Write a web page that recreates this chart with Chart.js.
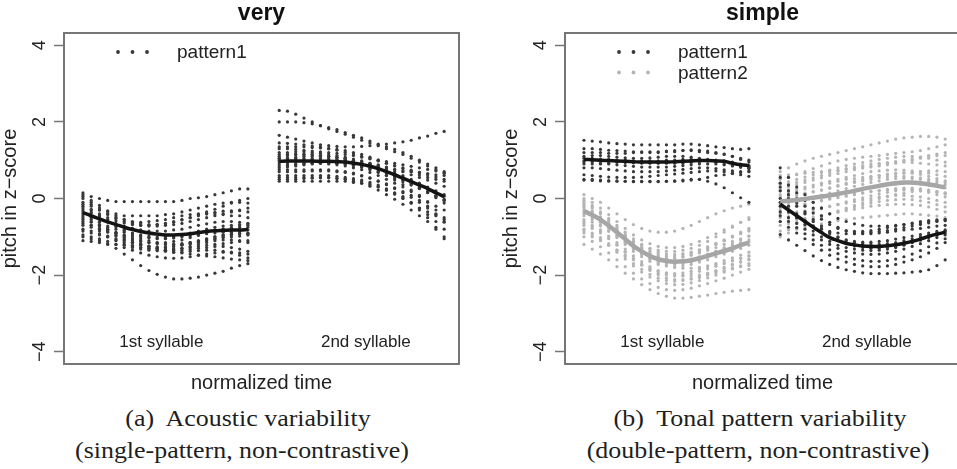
<!DOCTYPE html>
<html><head><meta charset="utf-8">
<script src="https://cdn.jsdelivr.net/npm/chart.js@4.4.1/dist/chart.umd.min.js"></script>
<style>
html,body{margin:0;padding:0;background:#fff;width:957px;height:469px;overflow:hidden;position:relative}
canvas{position:absolute;top:0}
#c1{left:0}
#c2{left:501px}
.cap{position:absolute;font-family:"Liberation Serif","Times New Roman",serif;font-size:24px;color:#1e1e1e;white-space:nowrap;transform:translate(-50%,-50%) scaleX(1.08)}
</style></head><body>
<canvas id="c1" width="478" height="400"></canvas>
<canvas id="c2" width="478" height="400"></canvas>
<div class="cap" style="left:248px;top:418px">(a)&nbsp; Acoustic variability</div>
<div class="cap" style="left:242px;top:450px">(single-pattern, non-contrastive)</div>
<div class="cap" style="left:760px;top:418px">(b)&nbsp; Tonal pattern variability</div>
<div class="cap" style="left:758px;top:450px">(double-pattern, non-contrastive)</div>
<script>
// ---------- data ----------
const panelTitles = ['very', 'simple'];
const yTickValues = [-4, -2, 0, 2, 4];
const yTickLabels = ['\u22124', '\u22122', '0', '2', '4'];
const syllableLabels = ['1st syllable', '2nd syllable'];
const syllableLabelX = [9.5, 34.3];
const syllableLabelY = -3.76;
const syllableOffset = [0, 23.8];
const timeSteps = [0,1,2,3,4,5,6,7,8,9,10,11,12,13,14,15,16,17,18,19,20];

// "very" – pattern1, 1st syllable contours
const veryS1 = [
 [0.15,0.05,0.0,-0.05,-0.08,-0.08,-0.08,-0.08,-0.08,-0.08,-0.08,-0.08,-0.05,0.0,0.02,0.05,0.1,0.15,0.2,0.25,0.25],
 [0.1,-0.1,-0.25,-0.35,-0.4,-0.45,-0.45,-0.45,-0.45,-0.45,-0.42,-0.4,-0.35,-0.3,-0.25,-0.2,-0.15,-0.12,-0.1,-0.1,-0.12],
 [-0.1,-0.2,-0.3,-0.4,-0.5,-0.55,-0.6,-0.62,-0.6,-0.58,-0.55,-0.5,-0.45,-0.42,-0.4,-0.4,-0.4,-0.42,-0.45,-0.45,-0.5],
 [-0.3,-0.35,-0.45,-0.55,-0.65,-0.72,-0.78,-0.82,-0.85,-0.85,-0.85,-0.82,-0.8,-0.75,-0.7,-0.66,-0.62,-0.6,-0.6,-0.62,-0.65],
 [-0.4,-0.5,-0.6,-0.72,-0.8,-0.88,-0.95,-1.0,-1.02,-1.05,-1.05,-1.03,-1.0,-0.98,-0.95,-0.92,-0.9,-0.88,-0.88,-0.9,-0.92],
 [-0.5,-0.6,-0.7,-0.8,-0.9,-0.98,-1.05,-1.1,-1.15,-1.18,-1.2,-1.2,-1.18,-1.15,-1.12,-1.08,-1.05,-1.02,-1.0,-0.98,-0.95],
 [-0.6,-0.7,-0.85,-0.98,-1.1,-1.2,-1.28,-1.32,-1.35,-1.36,-1.35,-1.32,-1.3,-1.28,-1.25,-1.22,-1.2,-1.18,-1.15,-1.12,-1.1],
 [-0.85,-0.9,-0.95,-1.0,-1.05,-1.1,-1.15,-1.2,-1.25,-1.3,-1.35,-1.4,-1.42,-1.45,-1.48,-1.5,-1.52,-1.55,-1.58,-1.6,-1.62],
 [-1.0,-1.05,-1.1,-1.2,-1.3,-1.45,-1.6,-1.75,-1.88,-1.98,-2.05,-2.1,-2.1,-2.08,-2.05,-2.0,-1.95,-1.9,-1.82,-1.75,-1.7],
 [-0.2,-0.3,-0.45,-0.6,-0.72,-0.82,-0.9,-0.95,-0.98,-1.0,-1.0,-0.98,-0.95,-0.9,-0.85,-0.8,-0.75,-0.72,-0.7,-0.68,-0.66],
 [-1.1,-1.12,-1.15,-1.18,-1.2,-1.22,-1.25,-1.28,-1.3,-1.32,-1.35,-1.35,-1.35,-1.33,-1.3,-1.28,-1.25,-1.25,-1.28,-1.32,-1.38],
 [-0.7,-0.75,-0.8,-0.85,-0.9,-0.95,-1.0,-1.05,-1.1,-1.15,-1.18,-1.2,-1.2,-1.18,-1.15,-1.1,-1.05,-1.0,-0.95,-0.92,-0.9],
 [0.0,-0.15,-0.3,-0.42,-0.52,-0.6,-0.66,-0.7,-0.72,-0.72,-0.7,-0.68,-0.65,-0.6,-0.55,-0.5,-0.45,-0.4,-0.35,-0.3,-0.25],
 [-0.45,-0.55,-0.68,-0.8,-0.92,-1.02,-1.1,-1.18,-1.25,-1.3,-1.32,-1.32,-1.3,-1.25,-1.2,-1.15,-1.1,-1.08,-1.08,-1.1,-1.15],
 [-0.25,-0.38,-0.5,-0.62,-0.74,-0.84,-0.92,-0.98,-1.02,-1.04,-1.04,-1.02,-0.98,-0.94,-0.9,-0.86,-0.82,-0.8,-0.78,-0.76,-0.75],
 [-0.55,-0.62,-0.72,-0.84,-0.96,-1.06,-1.14,-1.2,-1.24,-1.26,-1.26,-1.24,-1.2,-1.15,-1.1,-1.05,-1.0,-0.96,-0.93,-0.92,-0.92],
 [-0.15,-0.28,-0.4,-0.5,-0.58,-0.64,-0.68,-0.7,-0.7,-0.68,-0.65,-0.6,-0.55,-0.5,-0.45,-0.4,-0.36,-0.33,-0.32,-0.32,-0.35],
 [-0.8,-0.85,-0.92,-1.0,-1.08,-1.15,-1.22,-1.28,-1.32,-1.36,-1.38,-1.4,-1.4,-1.38,-1.36,-1.35,-1.35,-1.38,-1.42,-1.48,-1.55],
 [-0.35,-0.48,-0.62,-0.76,-0.88,-0.98,-1.06,-1.12,-1.15,-1.16,-1.15,-1.12,-1.08,-1.02,-0.96,-0.9,-0.85,-0.8,-0.76,-0.72,-0.7],
 [-0.65,-0.7,-0.78,-0.88,-0.98,-1.08,-1.16,-1.22,-1.26,-1.28,-1.28,-1.26,-1.22,-1.18,-1.12,-1.06,-1.0,-0.95,-0.9,-0.85,-0.82],
 [0.05,-0.05,-0.18,-0.32,-0.45,-0.55,-0.62,-0.66,-0.68,-0.68,-0.66,-0.62,-0.56,-0.5,-0.42,-0.35,-0.28,-0.2,-0.12,-0.05,0.0],
 [-0.95,-1.0,-1.05,-1.12,-1.2,-1.28,-1.35,-1.42,-1.48,-1.52,-1.55,-1.56,-1.55,-1.52,-1.48,-1.45,-1.42,-1.4,-1.4,-1.42,-1.45]
];
// "very" – pattern1, 2nd syllable contours
const veryS2 = [
 [2.3,2.28,2.2,2.1,2.0,1.9,1.82,1.75,1.68,1.6,1.52,1.45,1.38,1.3,1.22,1.15,1.05,0.95,0.85,0.75,0.65],
 [2.0,2.0,2.0,1.98,1.95,1.9,1.85,1.8,1.72,1.65,1.58,1.5,1.42,1.35,1.28,1.2,1.1,1.0,0.9,0.8,0.7],
 [1.65,1.6,1.55,1.5,1.45,1.4,1.38,1.36,1.35,1.35,1.36,1.38,1.4,1.42,1.45,1.48,1.52,1.58,1.63,1.7,1.75],
 [1.35,1.35,1.35,1.35,1.33,1.32,1.3,1.28,1.25,1.2,1.15,1.08,1.0,0.92,0.85,0.78,0.7,0.62,0.55,0.5,0.45],
 [1.2,1.2,1.22,1.22,1.2,1.18,1.15,1.12,1.08,1.03,0.98,0.92,0.85,0.78,0.7,0.6,0.5,0.4,0.3,0.2,0.1],
 [1.05,1.05,1.05,1.05,1.05,1.05,1.04,1.02,1.0,0.96,0.92,0.87,0.8,0.72,0.62,0.52,0.42,0.3,0.18,0.05,-0.05],
 [0.9,0.9,0.9,0.92,0.92,0.92,0.9,0.88,0.85,0.8,0.75,0.68,0.6,0.5,0.4,0.3,0.18,0.05,-0.08,-0.2,-0.3],
 [0.75,0.75,0.75,0.75,0.75,0.75,0.75,0.72,0.7,0.66,0.6,0.54,0.46,0.38,0.28,0.18,0.08,-0.05,-0.2,-0.4,-0.6],
 [0.6,0.6,0.6,0.6,0.6,0.6,0.6,0.58,0.55,0.52,0.48,0.42,0.35,0.25,0.15,0.05,-0.1,-0.3,-0.5,-0.75,-1.05],
 [0.45,0.45,0.45,0.45,0.45,0.45,0.45,0.45,0.45,0.42,0.4,0.35,0.3,0.22,0.12,0.0,-0.12,-0.25,-0.35,-0.45,-0.5],
 [1.0,1.0,1.0,1.0,1.0,1.0,1.0,1.0,1.0,0.98,0.96,0.92,0.88,0.82,0.76,0.7,0.62,0.55,0.48,0.4,0.32],
 [0.8,0.82,0.85,0.88,0.9,0.92,0.92,0.92,0.9,0.88,0.84,0.78,0.7,0.6,0.48,0.36,0.22,0.08,-0.1,-0.3,-0.55],
 [1.1,1.12,1.15,1.15,1.15,1.12,1.1,1.08,1.05,1.0,0.95,0.9,0.85,0.8,0.75,0.72,0.7,0.68,0.65,0.62,0.6],
 [0.55,0.55,0.55,0.55,0.55,0.55,0.55,0.52,0.5,0.45,0.4,0.32,0.22,0.1,-0.02,-0.15,-0.3,-0.45,-0.6,-0.8,-1.0],
 [1.15,1.15,1.15,1.15,1.14,1.12,1.1,1.07,1.03,0.98,0.92,0.85,0.77,0.68,0.58,0.48,0.38,0.28,0.18,0.08,-0.02],
 [0.95,0.95,0.96,0.97,0.97,0.96,0.95,0.93,0.9,0.86,0.81,0.75,0.68,0.6,0.52,0.44,0.35,0.26,0.16,0.06,-0.05],
 [0.7,0.7,0.7,0.71,0.72,0.72,0.72,0.7,0.68,0.64,0.59,0.53,0.45,0.36,0.26,0.15,0.03,-0.1,-0.25,-0.42,-0.62],
 [1.3,1.3,1.28,1.26,1.24,1.22,1.2,1.18,1.15,1.12,1.08,1.04,1.0,0.96,0.92,0.88,0.84,0.8,0.76,0.72,0.68],
 [0.85,0.86,0.88,0.9,0.92,0.93,0.93,0.92,0.9,0.87,0.83,0.78,0.72,0.65,0.57,0.48,0.38,0.27,0.15,0.02,-0.12],
 [1.05,1.06,1.08,1.1,1.1,1.1,1.09,1.07,1.04,1.0,0.95,0.89,0.82,0.74,0.65,0.56,0.46,0.36,0.26,0.16,0.06],
 [0.5,0.5,0.5,0.52,0.53,0.54,0.54,0.53,0.51,0.48,0.44,0.38,0.31,0.22,0.12,0.01,-0.12,-0.26,-0.42,-0.6,-0.8],
 [1.45,1.44,1.42,1.4,1.37,1.34,1.3,1.26,1.21,1.16,1.1,1.04,0.98,0.92,0.86,0.8,0.74,0.68,0.62,0.56,0.5]
];
const veryMeanS1 = [-0.37,-0.45,-0.53,-0.61,-0.68,-0.75,-0.81,-0.86,-0.90,-0.93,-0.95,-0.95,-0.94,-0.92,-0.89,-0.86,-0.84,-0.83,-0.82,-0.82,-0.81];
const veryMeanS2 = [0.97,0.98,0.98,0.98,0.98,0.97,0.97,0.96,0.95,0.92,0.89,0.84,0.78,0.70,0.62,0.53,0.44,0.35,0.26,0.15,0.05];

// "simple" – pattern1 (black) and pattern2 (grey)
const simpleP1S1 = [
 [1.52,1.5,1.48,1.45,1.43,1.42,1.4,1.4,1.4,1.4,1.4,1.4,1.42,1.42,1.4,1.38,1.35,1.33,1.3,1.28,1.3],
 [1.2,1.2,1.2,1.18,1.18,1.18,1.2,1.2,1.2,1.2,1.22,1.22,1.25,1.25,1.22,1.2,1.18,1.15,1.1,1.05,1.0],
 [1.05,1.05,1.03,1.02,1.0,1.0,0.98,0.98,0.98,0.98,1.0,1.0,1.02,1.02,1.02,1.0,0.98,0.95,0.92,0.88,0.85],
 [0.95,0.95,0.92,0.9,0.88,0.86,0.84,0.82,0.82,0.82,0.82,0.84,0.86,0.88,0.9,0.9,0.9,0.88,0.85,0.82,0.8],
 [0.8,0.8,0.78,0.76,0.74,0.72,0.7,0.7,0.7,0.7,0.72,0.74,0.76,0.78,0.8,0.8,0.78,0.75,0.72,0.7,0.7],
 [0.48,0.47,0.46,0.45,0.45,0.45,0.44,0.44,0.44,0.44,0.45,0.45,0.46,0.48,0.5,0.55,0.6,0.62,0.65,0.68,0.72],
 [0.5,0.5,0.48,0.47,0.46,0.45,0.45,0.45,0.45,0.45,0.45,0.46,0.48,0.5,0.5,0.45,0.38,0.28,0.15,0.02,-0.1],
 [1.1,1.12,1.12,1.1,1.08,1.06,1.05,1.05,1.06,1.08,1.1,1.1,1.1,1.08,1.05,1.02,1.0,0.98,0.95,0.9,0.85],
 [0.9,0.9,0.9,0.92,0.95,0.95,0.95,0.94,0.93,0.92,0.92,0.92,0.92,0.94,0.96,0.98,0.98,0.96,0.92,0.86,0.8],
 [1.3,1.3,1.28,1.26,1.25,1.24,1.22,1.22,1.22,1.22,1.24,1.25,1.26,1.27,1.26,1.24,1.2,1.16,1.1,1.02,0.95],
 [0.98,0.98,0.97,0.96,0.95,0.94,0.93,0.92,0.92,0.93,0.94,0.96,0.98,1.0,1.0,0.98,0.94,0.9,0.86,0.82,0.78],
 [0.62,0.6,0.58,0.56,0.55,0.55,0.55,0.56,0.58,0.6,0.62,0.64,0.66,0.68,0.7,0.72,0.72,0.7,0.66,0.62,0.58]
];
const simpleP2S1 = [
 [0.1,0.0,-0.1,-0.25,-0.4,-0.55,-0.68,-0.78,-0.85,-0.88,-0.88,-0.85,-0.78,-0.7,-0.6,-0.5,-0.4,-0.32,-0.25,-0.2,-0.15],
 [0.0,-0.1,-0.25,-0.42,-0.6,-0.78,-0.95,-1.08,-1.18,-1.25,-1.28,-1.28,-1.25,-1.2,-1.12,-1.02,-0.92,-0.82,-0.72,-0.62,-0.55],
 [-0.15,-0.25,-0.4,-0.58,-0.78,-0.98,-1.15,-1.3,-1.42,-1.5,-1.55,-1.55,-1.52,-1.48,-1.42,-1.35,-1.28,-1.2,-1.12,-1.05,-0.98],
 [-0.3,-0.4,-0.52,-0.68,-0.86,-1.05,-1.22,-1.36,-1.48,-1.56,-1.62,-1.64,-1.62,-1.58,-1.52,-1.45,-1.38,-1.3,-1.22,-1.15,-1.08],
 [-0.45,-0.55,-0.68,-0.85,-1.02,-1.2,-1.38,-1.52,-1.64,-1.72,-1.76,-1.78,-1.76,-1.72,-1.66,-1.6,-1.52,-1.45,-1.38,-1.3,-1.22],
 [-0.6,-0.7,-0.82,-0.98,-1.15,-1.32,-1.5,-1.65,-1.78,-1.88,-1.94,-1.96,-1.94,-1.9,-1.84,-1.78,-1.7,-1.62,-1.55,-1.48,-1.4],
 [-0.8,-0.9,-1.02,-1.18,-1.35,-1.52,-1.7,-1.85,-1.98,-2.08,-2.14,-2.16,-2.14,-2.1,-2.04,-1.98,-1.9,-1.82,-1.74,-1.66,-1.58],
 [-1.0,-1.12,-1.26,-1.42,-1.6,-1.78,-1.95,-2.1,-2.22,-2.32,-2.38,-2.4,-2.38,-2.34,-2.28,-2.22,-2.15,-2.08,-2.0,-1.92,-1.85],
 [-1.2,-1.32,-1.45,-1.6,-1.78,-1.95,-2.1,-2.25,-2.38,-2.48,-2.55,-2.6,-2.6,-2.58,-2.55,-2.52,-2.48,-2.45,-2.42,-2.4,-2.38],
 [-0.2,-0.32,-0.48,-0.65,-0.82,-0.98,-1.12,-1.22,-1.3,-1.35,-1.38,-1.38,-1.35,-1.3,-1.22,-1.12,-1.0,-0.88,-0.75,-0.62,-0.5],
 [-0.55,-0.62,-0.72,-0.85,-1.0,-1.15,-1.3,-1.45,-1.58,-1.68,-1.75,-1.8,-1.82,-1.82,-1.8,-1.76,-1.72,-1.68,-1.62,-1.56,-1.5],
 [-0.9,-1.0,-1.1,-1.22,-1.35,-1.48,-1.6,-1.72,-1.82,-1.9,-1.96,-2.0,-2.02,-2.02,-2.0,-1.95,-1.88,-1.8,-1.72,-1.65,-1.6],
 [-0.05,-0.18,-0.35,-0.52,-0.7,-0.88,-1.05,-1.2,-1.32,-1.4,-1.45,-1.46,-1.44,-1.4,-1.34,-1.26,-1.18,-1.1,-1.0,-0.92,-0.85],
 [-0.7,-0.78,-0.9,-1.05,-1.22,-1.4,-1.58,-1.74,-1.88,-2.0,-2.08,-2.12,-2.12,-2.1,-2.06,-2.0,-1.94,-1.88,-1.82,-1.78,-1.75],
 [-0.1,-0.22,-0.38,-0.56,-0.75,-0.94,-1.12,-1.27,-1.38,-1.46,-1.5,-1.5,-1.47,-1.42,-1.35,-1.27,-1.18,-1.08,-0.98,-0.88,-0.78],
 [-0.4,-0.5,-0.62,-0.78,-0.96,-1.14,-1.32,-1.47,-1.59,-1.67,-1.71,-1.72,-1.7,-1.66,-1.6,-1.53,-1.46,-1.38,-1.3,-1.22,-1.14],
 [-0.65,-0.74,-0.86,-1.02,-1.2,-1.38,-1.56,-1.72,-1.85,-1.95,-2.0,-2.02,-2.0,-1.96,-1.9,-1.84,-1.77,-1.7,-1.63,-1.56,-1.5],
 [-0.25,-0.36,-0.5,-0.66,-0.84,-1.02,-1.2,-1.34,-1.45,-1.52,-1.56,-1.56,-1.53,-1.47,-1.39,-1.3,-1.2,-1.1,-1.0,-0.9,-0.82],
 [-0.85,-0.95,-1.07,-1.22,-1.4,-1.58,-1.76,-1.92,-2.05,-2.15,-2.22,-2.25,-2.24,-2.2,-2.14,-2.07,-2.0,-1.92,-1.84,-1.76,-1.7],
 [-0.35,-0.45,-0.58,-0.74,-0.92,-1.1,-1.28,-1.43,-1.55,-1.63,-1.68,-1.69,-1.67,-1.62,-1.55,-1.47,-1.38,-1.28,-1.18,-1.08,-0.98]
];
const simpleP1S2 = [
 [0.8,0.55,0.3,0.1,-0.1,-0.25,-0.4,-0.52,-0.6,-0.66,-0.7,-0.72,-0.72,-0.72,-0.7,-0.68,-0.66,-0.64,-0.6,-0.58,-0.55],
 [0.55,0.35,0.15,-0.05,-0.25,-0.45,-0.62,-0.75,-0.85,-0.9,-0.92,-0.92,-0.9,-0.88,-0.85,-0.82,-0.8,-0.78,-0.75,-0.72,-0.7],
 [0.2,0.0,-0.2,-0.4,-0.6,-0.78,-0.92,-1.02,-1.1,-1.15,-1.18,-1.2,-1.2,-1.18,-1.15,-1.1,-1.05,-1.0,-0.95,-0.9,-0.85],
 [-0.1,-0.3,-0.5,-0.68,-0.85,-1.0,-1.12,-1.22,-1.28,-1.32,-1.35,-1.36,-1.35,-1.32,-1.28,-1.22,-1.15,-1.08,-1.0,-0.92,-0.85],
 [-0.35,-0.5,-0.65,-0.8,-0.95,-1.08,-1.2,-1.3,-1.38,-1.42,-1.45,-1.46,-1.45,-1.42,-1.38,-1.32,-1.25,-1.18,-1.1,-1.02,-0.95],
 [-0.6,-0.75,-0.9,-1.05,-1.2,-1.35,-1.48,-1.58,-1.66,-1.72,-1.76,-1.78,-1.78,-1.76,-1.72,-1.66,-1.6,-1.52,-1.42,-1.3,-1.15],
 [-0.94,-1.08,-1.22,-1.36,-1.5,-1.62,-1.72,-1.8,-1.86,-1.9,-1.94,-1.96,-1.96,-1.96,-1.95,-1.94,-1.92,-1.9,-1.86,-1.75,-1.6],
 [-0.2,-0.35,-0.5,-0.62,-0.72,-0.8,-0.86,-0.9,-0.92,-0.92,-0.9,-0.88,-0.86,-0.84,-0.8,-0.76,-0.72,-0.68,-0.64,-0.6,-0.58],
 [0.3,0.1,-0.12,-0.35,-0.55,-0.72,-0.88,-1.0,-1.08,-1.12,-1.14,-1.14,-1.12,-1.1,-1.06,-1.02,-0.98,-0.94,-0.9,-0.86,-0.82],
 [0.0,-0.2,-0.4,-0.58,-0.74,-0.88,-1.0,-1.1,-1.18,-1.24,-1.28,-1.3,-1.3,-1.28,-1.25,-1.2,-1.14,-1.08,-1.02,-0.96,-0.9],
 [-0.45,-0.6,-0.76,-0.92,-1.08,-1.22,-1.34,-1.44,-1.52,-1.58,-1.62,-1.64,-1.64,-1.62,-1.58,-1.52,-1.45,-1.36,-1.26,-1.16,-1.05],
 [0.4,0.2,0.0,-0.2,-0.38,-0.54,-0.68,-0.78,-0.84,-0.86,-0.86,-0.84,-0.8,-0.76,-0.72,-0.68,-0.64,-0.6,-0.58,-0.56,-0.55]
];
const simpleP2S2 = [
 [0.7,0.8,0.9,0.98,1.05,1.1,1.15,1.2,1.25,1.3,1.35,1.4,1.45,1.5,1.55,1.58,1.6,1.62,1.62,1.6,1.55],
 [0.5,0.55,0.62,0.7,0.78,0.85,0.92,0.98,1.02,1.05,1.08,1.1,1.12,1.15,1.18,1.2,1.22,1.25,1.3,1.35,1.4],
 [0.35,0.38,0.42,0.48,0.54,0.6,0.66,0.72,0.78,0.82,0.86,0.9,0.92,0.94,0.95,0.95,0.94,0.92,0.9,0.88,0.85],
 [0.2,0.22,0.25,0.3,0.35,0.4,0.45,0.5,0.55,0.6,0.65,0.7,0.72,0.74,0.75,0.74,0.72,0.7,0.66,0.62,0.58],
 [0.05,0.07,0.1,0.14,0.18,0.22,0.27,0.32,0.37,0.42,0.46,0.5,0.54,0.56,0.58,0.58,0.56,0.54,0.5,0.46,0.42],
 [-0.1,-0.08,-0.05,-0.02,0.02,0.06,0.1,0.14,0.18,0.22,0.26,0.3,0.33,0.36,0.38,0.4,0.4,0.38,0.35,0.32,0.28],
 [-0.25,-0.22,-0.18,-0.14,-0.1,-0.06,-0.02,0.02,0.06,0.1,0.14,0.18,0.21,0.24,0.26,0.27,0.27,0.25,0.22,0.18,0.14],
 [-0.4,-0.38,-0.35,-0.32,-0.28,-0.24,-0.2,-0.16,-0.12,-0.08,-0.04,0.0,0.04,0.06,0.08,0.08,0.06,0.04,0.0,-0.05,-0.1],
 [-0.6,-0.58,-0.55,-0.52,-0.48,-0.44,-0.4,-0.36,-0.32,-0.28,-0.24,-0.2,-0.18,-0.16,-0.15,-0.15,-0.16,-0.18,-0.22,-0.28,-0.35],
 [-0.85,-0.82,-0.78,-0.74,-0.7,-0.66,-0.62,-0.58,-0.55,-0.52,-0.5,-0.48,-0.46,-0.44,-0.42,-0.4,-0.4,-0.42,-0.44,-0.46,-0.5],
 [-1.0,-0.9,-0.8,-0.7,-0.6,-0.5,-0.4,-0.32,-0.25,-0.18,-0.12,-0.06,0.0,0.05,0.1,0.14,0.18,0.2,0.2,0.18,0.15],
 [0.6,0.62,0.64,0.66,0.68,0.7,0.72,0.74,0.76,0.78,0.8,0.82,0.85,0.88,0.92,0.96,1.0,1.05,1.1,1.12,1.12],
 [0.1,0.15,0.2,0.25,0.3,0.35,0.4,0.45,0.5,0.52,0.55,0.58,0.6,0.62,0.64,0.66,0.68,0.7,0.72,0.72,0.7],
 [-0.3,-0.25,-0.2,-0.15,-0.1,-0.05,0.0,0.05,0.08,0.12,0.15,0.18,0.2,0.22,0.24,0.25,0.24,0.22,0.2,0.16,0.12],
 [0.4,0.44,0.5,0.56,0.62,0.68,0.74,0.8,0.86,0.9,0.94,0.98,1.02,1.05,1.08,1.1,1.1,1.08,1.05,1.0,0.95],
 [0.0,0.03,0.07,0.12,0.17,0.22,0.28,0.34,0.4,0.45,0.5,0.55,0.6,0.64,0.66,0.67,0.66,0.63,0.58,0.52,0.46],
 [-0.5,-0.47,-0.43,-0.38,-0.33,-0.27,-0.21,-0.15,-0.09,-0.03,0.02,0.07,0.12,0.16,0.2,0.22,0.22,0.2,0.16,0.1,0.04],
 [-0.7,-0.66,-0.62,-0.57,-0.52,-0.46,-0.4,-0.34,-0.28,-0.22,-0.17,-0.12,-0.08,-0.05,-0.03,-0.02,-0.03,-0.06,-0.1,-0.16,-0.22],
 [0.25,0.3,0.36,0.42,0.48,0.54,0.6,0.65,0.7,0.75,0.8,0.84,0.88,0.92,0.96,1.0,1.04,1.08,1.12,1.16,1.2],
 [-0.15,-0.12,-0.08,-0.03,0.02,0.08,0.14,0.2,0.26,0.32,0.37,0.42,0.46,0.5,0.52,0.53,0.52,0.5,0.46,0.41,0.36]
];
const simpleMeanP1S1 = [1.02,1.01,1.00,0.99,0.98,0.97,0.96,0.95,0.95,0.95,0.95,0.96,0.97,0.98,0.99,0.99,0.98,0.97,0.92,0.88,0.86];
const simpleMeanP2S1 = [-0.33,-0.43,-0.55,-0.71,-0.88,-1.06,-1.24,-1.38,-1.50,-1.58,-1.63,-1.65,-1.64,-1.61,-1.56,-1.50,-1.43,-1.37,-1.30,-1.22,-1.15];
const simpleMeanP1S2 = [-0.15,-0.30,-0.45,-0.60,-0.75,-0.89,-1.02,-1.10,-1.17,-1.21,-1.24,-1.25,-1.25,-1.23,-1.21,-1.17,-1.12,-1.06,-0.99,-0.93,-0.88];
const simpleMeanP2S2 = [-0.08,-0.06,-0.04,-0.01,0.02,0.05,0.08,0.12,0.16,0.20,0.25,0.29,0.33,0.37,0.40,0.42,0.42,0.40,0.37,0.33,0.29];
const legendNames = ['pattern1', 'pattern2'];

// ---------- styling ----------
const COL = { p1Dot: '#383838', p2Dot: '#b4b4b4', p1Line: '#141414', p2Line: '#a6a6a6', box: '#767676', text: '#222' };
const SANS = '"Liberation Sans", Arial, Helvetica, sans-serif';

function dots(contours, off, color) {
  const pts = [];
  contours.forEach(c => c.forEach((v, i) => pts.push({ x: syllableOffset[off] + timeSteps[i], y: v })));
  return { type: 'scatter', data: pts, pointRadius: 1.6, pointHoverRadius: 1.6, pointBackgroundColor: color, pointBorderWidth: 0, showLine: false, order: 2 };
}
function meanLine(vals, off, color, w) {
  return { type: 'scatter', data: vals.map((v, i) => ({ x: syllableOffset[off] + timeSteps[i], y: v })), showLine: true, borderColor: color, borderWidth: w, pointRadius: 0, cubicInterpolationMode: 'monotone', order: 1 };
}

const panelPlugin = {
  id: 'panelDeco',
  afterDraw(chart, args, opts) {
    const { ctx, chartArea: a, scales } = chart;
    ctx.save();
    ctx.strokeStyle = COL.box; ctx.lineWidth = 2;
    ctx.strokeRect(a.left, a.top, a.right - a.left, a.bottom - a.top);
    ctx.fillStyle = COL.text; ctx.font = '17px ' + SANS; ctx.textAlign = 'center'; ctx.textBaseline = 'middle';
    syllableLabels.forEach((s, i) => ctx.fillText(s, scales.x.getPixelForValue(syllableLabelX[i]), scales.y.getPixelForValue(syllableLabelY)));
    ctx.font = '19px ' + SANS; ctx.textAlign = 'left';
    opts.items.forEach((it, k) => {
      const y = a.top + 19 + k * 20.5;
      ctx.fillStyle = it.color;
      [54, 68.5, 83].forEach(dx => { ctx.beginPath(); ctx.arc(a.left + dx, y, 1.9, 0, Math.PI * 2); ctx.fill(); });
      ctx.fillStyle = COL.text;
      ctx.fillText(it.label, a.left + 113, y + 1);
    });
    ctx.restore();
  }
};

function makeChart(id, title, datasets, legendItems) {
  return new Chart(document.getElementById(id), {
    type: 'scatter',
    data: { datasets },
    plugins: [panelPlugin],
    options: {
      responsive: false, animation: false, devicePixelRatio: 1,
      layout: { padding: { left: 0, right: 19, top: 0, bottom: 0 } },
      plugins: {
        legend: { display: false }, tooltip: { enabled: false },
        title: { display: true, text: title, fullSize: false, color: '#111', font: { family: SANS, size: 23, weight: 'bold', lineHeight: 1.2 }, padding: { top: 0, bottom: 5.4 } },
        panelDeco: { items: legendItems }
      },
      scales: {
        x: {
          type: 'linear', min: -2.3, max: 45.6,
          ticks: { display: false }, grid: { display: false }, border: { display: false },
          title: { display: true, text: 'normalized time', color: COL.text, font: { family: SANS, size: 20, lineHeight: 1.2 }, padding: { top: 0, bottom: 5 } },
          afterFit: s => { s.height = 36; }
        },
        y: {
          type: 'linear', min: -4.32, max: 4.32,
          afterBuildTicks: s => { s.ticks = yTickValues.map(v => ({ value: v })); },
          ticks: { minRotation: 90, maxRotation: 90, crossAlign: 'center', padding: 4, color: COL.text, font: { family: SANS, size: 18 }, callback: (v) => yTickLabels[yTickValues.indexOf(v)] },
          grid: { drawOnChartArea: false, drawTicks: true, tickLength: 10, tickColor: COL.box, tickWidth: 1.5 },
          border: { display: false },
          title: { display: true, text: 'pitch in z\u2212score', color: COL.text, font: { family: SANS, size: 20, lineHeight: 1 }, padding: { top: 0, bottom: 0 } },
          afterFit: s => { s.width = 64; }
        }
      }
    }
  });
}

makeChart('c1', panelTitles[0], [
  meanLine(veryMeanS1, 0, COL.p1Line, 3.5),
  meanLine(veryMeanS2, 1, COL.p1Line, 3.5),
  dots(veryS1, 0, COL.p1Dot),
  dots(veryS2, 1, COL.p1Dot)
], [{ label: legendNames[0], color: COL.p1Dot }]);

makeChart('c2', panelTitles[1], [
  meanLine(simpleMeanP1S1, 0, COL.p1Line, 3.5),
  meanLine(simpleMeanP1S2, 1, COL.p1Line, 3.5),
  meanLine(simpleMeanP2S1, 0, COL.p2Line, 4.5),
  meanLine(simpleMeanP2S2, 1, COL.p2Line, 4.5),
  dots(simpleP1S1, 0, COL.p1Dot),
  dots(simpleP1S2, 1, COL.p1Dot),
  dots(simpleP2S1, 0, COL.p2Dot),
  dots(simpleP2S2, 1, COL.p2Dot)
], [{ label: legendNames[0], color: COL.p1Dot }, { label: legendNames[1], color: COL.p2Dot }]);
</script>
</body></html>
